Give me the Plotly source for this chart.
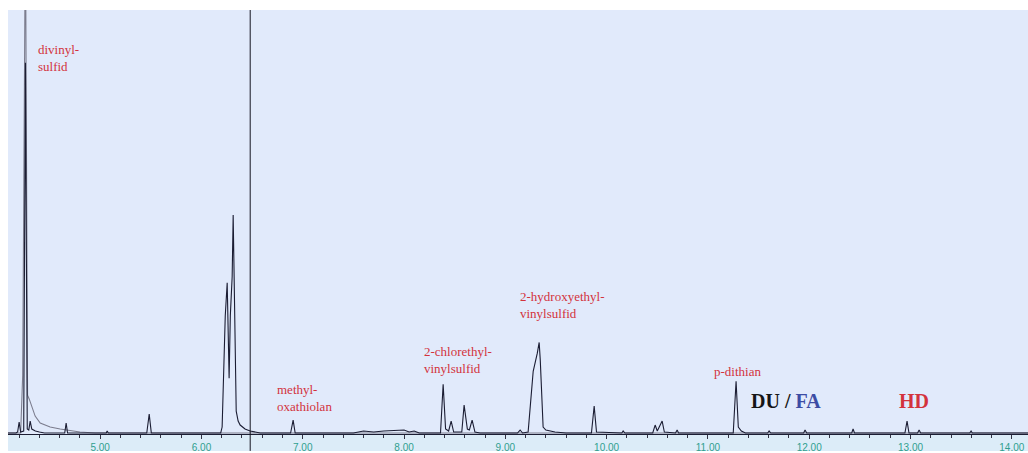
import plotly.graph_objects as go

# Retention time (min) and detector signal for the main channel
main_time = [
    4.09, 4.17, 4.185, 4.200, 4.215, 4.245, 4.262, 4.280, 4.295, 4.309, 4.325,
    4.36, 4.40, 4.45, 4.65, 4.664, 4.678, 4.75, 5.06, 5.069, 5.08,
    5.46, 5.484, 5.505, 6.19, 6.204, 6.235, 6.254, 6.266, 6.273, 6.285, 6.303,
    6.313, 6.325, 6.343, 6.362, 6.382, 6.43, 6.48, 6.58,
    6.88, 6.905, 6.925, 7.5, 7.6, 7.7, 7.8, 8.0, 8.05, 8.1, 8.15,
    8.36, 8.386, 8.41, 8.44, 8.465, 8.49, 8.57, 8.593, 8.625, 8.645, 8.672, 8.70, 8.75,
    9.12, 9.146, 9.17, 9.225, 9.265, 9.275, 9.315, 9.334, 9.345, 9.36, 9.373,
    9.40, 9.45, 9.49, 9.6, 9.85, 9.877, 9.90, 10.15, 10.163, 10.18,
    10.455, 10.479, 10.50, 10.548, 10.57, 10.68, 10.696, 10.71,
    11.25, 11.278, 11.30, 11.33, 11.37, 11.59, 11.604, 11.62,
    11.945, 11.959, 11.975, 12.42, 12.433, 12.447,
    12.945, 12.966, 12.985, 13.07, 13.085, 13.10, 13.585, 13.598, 13.61, 14.16,
]
main_signal = [
    2, 2, 3, 13, 3, 4, 374, 6, 5, 14, 6,
    4, 3, 2, 2, 12, 2, 2, 2, 4, 2,
    2, 21, 2, 2, 8, 120, 153, 100, 57, 120, 159,
    221, 130, 24, 14, 10, 6, 4, 2,
    2, 15, 2, 2, 4, 3, 4, 5, 3, 4, 2,
    2, 51, 6, 4, 14, 3, 3, 30, 6, 5, 15, 3, 2,
    2, 5, 2, 3, 57, 64, 82, 93, 75, 30, 8,
    5, 4, 3, 2, 2, 29, 3, 2, 4, 2,
    2, 10, 4, 14, 3, 2, 5, 2,
    2, 54, 8, 4, 2, 2, 4, 2,
    2, 5, 2, 2, 6, 2,
    2, 14, 2, 2, 5, 2, 2, 4, 2, 2,
]

# Second channel: off-scale divinyl sulfide peak with its tail
second_time = [4.09, 4.215, 4.235, 4.262, 4.283, 4.30, 4.358, 4.408, 4.506, 4.605, 4.80, 4.95, 14.16]
second_signal = [2, 2, 60, 520, 40, 36, 19, 12, 8, 6, 3, 2, 2]

# Compound labels: (text, retention time of label, signal level of label)
compound_labels = ["divinyl-<br>sulfid", "methyl-<br>oxathiolan", "2-chlorethyl-<br>vinylsulfid",
                   "2-hydroxyethyl-<br>vinylsulfid", "p-dithian"]
label_time = [4.368, 6.728, 8.179, 9.126, 11.042]
label_level = [379, 37.5, 75.5, 131, 64]

tick_values = [5, 6, 7, 8, 9, 10, 11, 12, 13, 14]
tick_labels = ["5.00", "6.00", "7.00", "8.00", "9.00", "10.00", "11.00", "12.00", "13.00", "14.00"]

cursor_time = 6.481

serif = "Liberation Serif, 'Times New Roman', Times, serif"

fig = go.Figure()
fig.add_trace(go.Scatter(x=second_time, y=second_signal, mode="lines",
                         line=dict(color="#7c7d8e", width=1.1), hoverinfo="skip"))
fig.add_trace(go.Scatter(x=main_time, y=main_signal, mode="lines",
                         line=dict(color="#1b1d33", width=1.1)))

red = "#d3323c"
for txt, t, lv in zip(compound_labels, label_time, label_level):
    fig.add_annotation(x=t, y=lv, xref="x", yref="y", text=txt, showarrow=False,
                       xanchor="left", yanchor="middle", align="left",
                       font=dict(family=serif, size=13, color=red))

fig.add_annotation(x=11.407, y=34, xref="x", yref="y",
                   text="<b><span style='color:#151515'>DU /</span> <span style='color:#3c4ca4'>FA</span></b>",
                   showarrow=False, xanchor="left", yanchor="middle",
                   font=dict(family=serif, size=20))
fig.add_annotation(x=12.868, y=34, xref="x", yref="y", text="<b>HD</b>",
                   showarrow=False, xanchor="left", yanchor="middle",
                   font=dict(family=serif, size=20, color=red))

bottom_margin = 17
plot_height = 453 - 10 - bottom_margin

# light band under the time axis
fig.add_shape(type="rect", xref="paper", yref="paper", x0=0, x1=1,
              y0=-bottom_margin / plot_height, y1=0, line_width=0,
              fillcolor="#dcecf8", layer="below")
# cursor line
fig.add_shape(type="line", xref="x", yref="paper", x0=cursor_time, x1=cursor_time,
              y0=-bottom_margin / plot_height, y1=1,
              line=dict(color="#151520", width=1))

fig.update_layout(
    width=1028, height=453,
    margin=dict(l=8, r=0, t=10, b=bottom_margin),
    paper_bgcolor="white", plot_bgcolor="#e1eafb",
    showlegend=False,
    xaxis=dict(range=[4.09, 14.16], showgrid=False, zeroline=False,
               showline=True, linecolor="#1b1d33", linewidth=1.3,
               ticks="outside", ticklen=4, tickcolor="#333344", tickwidth=1,
               tickvals=tick_values, ticktext=tick_labels,
               tickfont=dict(family="Liberation Sans", size=10, color="#2f9f8f"),
               minor=dict(dtick=0.2, tick0=0, ticks="outside", ticklen=3,
                          tickcolor="#333344", showgrid=False)),
    yaxis=dict(range=[1, 427], visible=False, showgrid=False, zeroline=False),
)

fig.write_html("out.html")
